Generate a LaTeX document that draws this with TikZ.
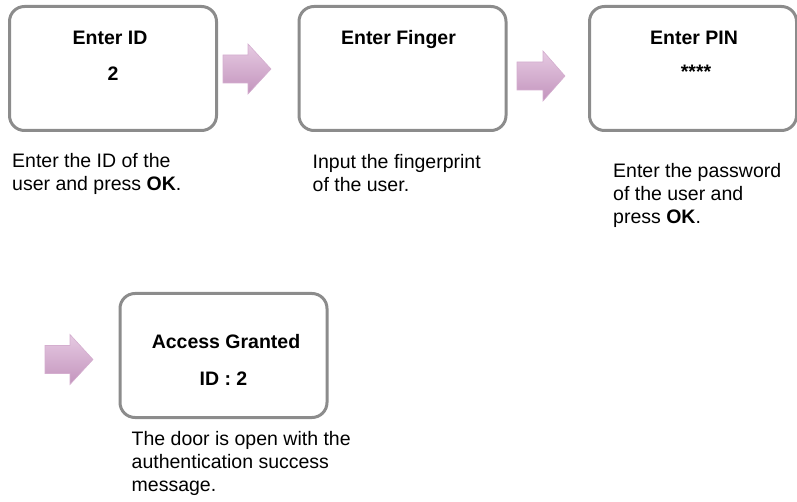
\documentclass[tikz,border=0pt]{standalone}
\usepackage{fontspec}
\setmainfont{Liberation Sans}
\usetikzlibrary{positioning}
\definecolor{boxgray}{HTML}{8C8C8C}
\definecolor{arrowtop}{HTML}{E6CAE2}
\definecolor{arrowbot}{HTML}{C394BD}
\definecolor{arrowedge}{HTML}{D4AECF}

\begin{document}
\begin{tikzpicture}[x=1pt, y=-1pt,
                screennode/.style={rectangle, rounded corners=15pt, draw=boxgray, line width=3pt, minimum width=207pt, minimum height=124pt},
                titlenode/.style={anchor=base, inner sep=0pt, font=\fontsize{19.5}{23}\selectfont\bfseries},
                captionnode/.style={inner sep=0pt, align=left, font=\fontsize{19.5}{23}\selectfont},
                arrownode/.style={top color=arrowtop, bottom color=arrowbot, draw=arrowedge, line width=0.6pt, line join=miter},]
                \useasboundingbox (0,0) rectangle (797,502);
                \node[screennode] (enterid) at (113,68.5) {};
                \node[screennode] (enterfinger) at (402.5,68.5) {};
                \node[screennode] (enterpin) at (693,68.5) {};
                \node[screennode] (granted) at (223.5,355.5) {};
                \node[titlenode] (idtitle) at ([xshift=-3pt,yshift=-40pt]enterid.north) {Enter ID};
                \node[titlenode] (idvalue) at ([yshift=-76pt]enterid.north) {2};
                \node[titlenode] (fingertitle) at ([xshift=-4pt,yshift=-40pt]enterfinger.north) {Enter Finger};
                \node[titlenode] (pintitle) at ([xshift=1pt,yshift=-40pt]enterpin.north) {Enter PIN};
                \node[titlenode] (pinvalue) at ([xshift=3pt,yshift=-74pt]enterpin.north) {****};
                \node[titlenode] (grantedtitle) at ([xshift=2.5pt,yshift=-56pt]granted.north) {Access Granted};
                \node[titlenode] (grantedvalue) at ([yshift=-93pt]granted.north) {ID : 2};
                \node[captionnode] (idtext) [below right=21pt and 4pt of enterid.south west] {Enter the ID of the\\user and press \textbf{OK}.};
                \node[captionnode] (fingertext) [below right=22pt and 15pt of enterfinger.south west] {Input the fingerprint\\of the user.};
                \node[captionnode] (pintext) [below right=31pt and 25pt of enterpin.south west] {Enter the password\\of the user and\\press \textbf{OK}.};
                \node[captionnode] (grantedtext) [below right=12pt and 13pt of granted.south west] {The door is open with the\\authentication success\\message.};
                \coordinate (a1) at (223,69);
                \coordinate (a2) at (517,76);
                \coordinate (a3) at (45,359.5);
                \path[arrownode] (a1) ++(0,-14) -- ++(25,0) -- ++(0,-11) -- ++(23,25) -- ++(-23,25) -- ++(0,-11) -- ++(-25,0) -- cycle;
                \path[arrownode] (a2) ++(0,-14) -- ++(26,0) -- ++(0,-11) -- ++(22,25) -- ++(-22,25) -- ++(0,-11) -- ++(-26,0) -- cycle;
                \path[arrownode] (a3) ++(0,-14) -- ++(25,0) -- ++(0,-11) -- ++(23,25) -- ++(-23,25) -- ++(0,-11) -- ++(-25,0) -- cycle;
            \end{tikzpicture}
\end{document}
